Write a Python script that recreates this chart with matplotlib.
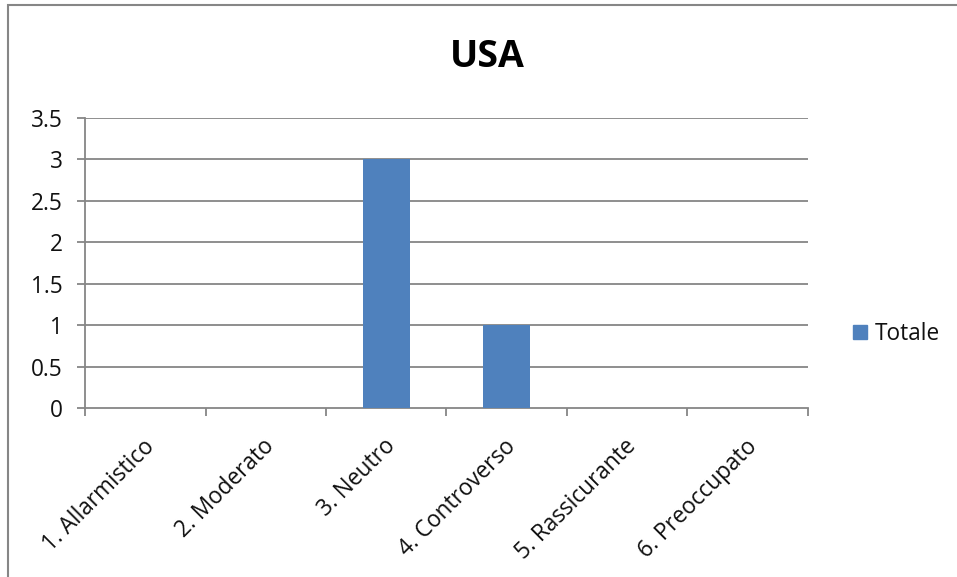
import matplotlib
matplotlib.use("Agg")
import matplotlib.pyplot as plt
from matplotlib.patches import Rectangle, Patch
import matplotlib.transforms as mtransforms

plt.rcParams['font.family'] = ['Open Sans', 'DejaVu Sans']

categories = ["1. Allarmistico", "2. Moderato", "3. Neutro",
              "4. Controverso", "5. Rassicurante", "6. Preoccupato"]
totale = [0, 0, 3, 1, 0, 0]
y_ticks = [0, 0.5, 1, 1.5, 2, 2.5, 3, 3.5]
y_tick_labels = ["0", "0.5", "1", "1.5", "2", "2.5", "3", "3.5"]

W, H = 957, 577
fig = plt.figure(figsize=(W / 100, H / 100), dpi=100)

# outer chart frame
fig.patches.append(Rectangle((8 / W, -0.1), 1.2, 1.1 - 5 / H, transform=fig.transFigure,
                             fill=False, edgecolor="#868686", linewidth=1.5))

ax = fig.add_axes([85 / W, 1 - 408 / H, (808 - 85) / W, (408 - 118) / H])
grid_c = "#868686"
bar_c = "#4F81BD"
fs = 16.3

x = list(range(len(categories)))
ax.bar(x, totale, width=0.39, color=bar_c, zorder=3)

ax.set_xlim(-0.5, len(categories) - 0.5)
ax.set_ylim(0, 3.5)
ax.set_yticks(y_ticks)
ax.set_yticklabels(y_tick_labels, fontsize=fs, color="#111111")
for y in y_ticks[1:]:
    ax.axhline(y, color=grid_c, linewidth=1.3, zorder=1)

ax.set_xticks([i - 0.5 for i in range(len(categories) + 1)])
ax.set_xticklabels([])
ax.set_xticks(x, minor=True)
ax.set_xticklabels(categories, minor=True, rotation=45, ha="right",
                   rotation_mode="anchor", fontsize=fs, color="#111111")
ax.tick_params(axis="x", which="minor", length=0, pad=19)
ax.tick_params(axis="x", which="major", length=6, color=grid_c, width=1.3)
ax.tick_params(axis="y", length=6, color=grid_c, width=1.3, pad=10)

offset = mtransforms.ScaledTranslation(-3 / 100, 0, fig.dpi_scale_trans)
for lab in ax.get_xticklabels(minor=True):
    lab.set_transform(lab.get_transform() + offset)

for s in ["top", "right"]:
    ax.spines[s].set_visible(False)
for s in ["left", "bottom"]:
    ax.spines[s].set_color(grid_c)
    ax.spines[s].set_linewidth(1.3)

fig.text(487 / W, 1 - 57 / H, "USA", ha="center", va="center",
         fontsize=27, fontweight="bold")

fig.legend(handles=[Patch(color=bar_c, label="Totale")],
           loc="center left", bbox_to_anchor=(833 / W, 1 - 334 / H),
           frameon=False, fontsize=fs, handlelength=0.62, handleheight=0.62,
           handletextpad=0.33, labelcolor="#111111")

fig.savefig("out.png", dpi=100)
